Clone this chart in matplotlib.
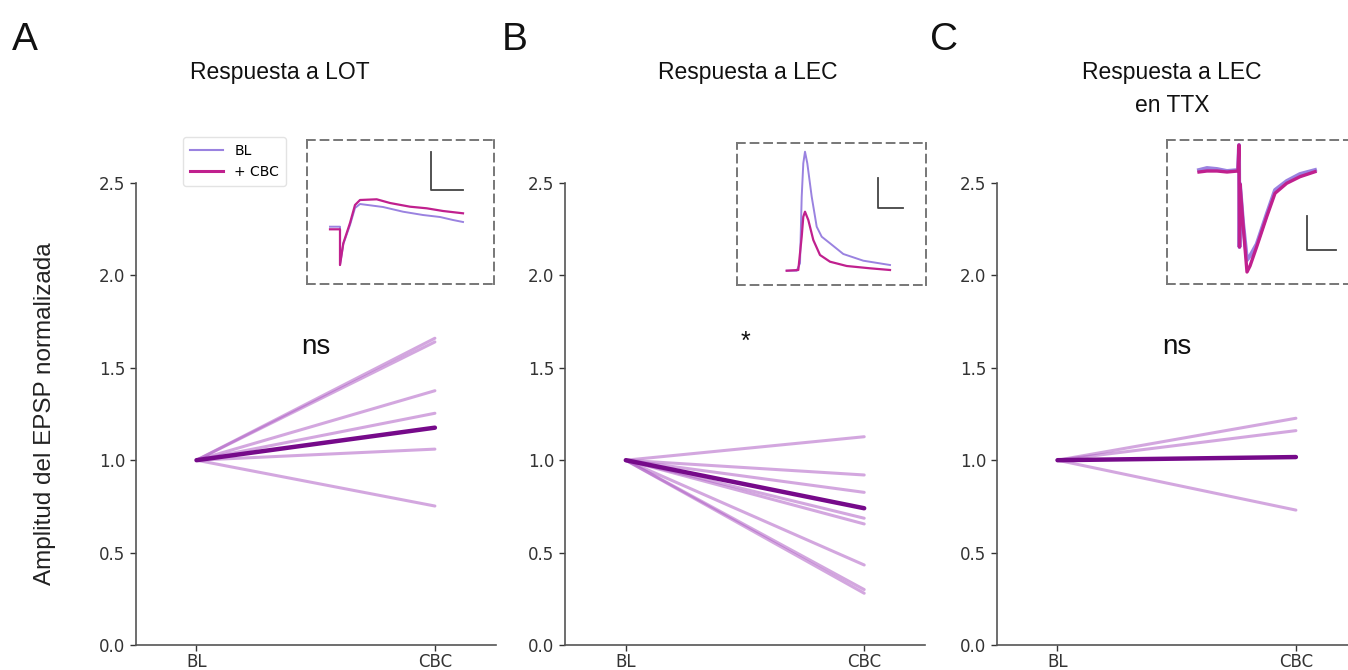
import matplotlib
matplotlib.use("Agg")
import matplotlib.pyplot as plt
from matplotlib.lines import Line2D

# ---------------- data ----------------
conditions = ["BL", "CBC"]

lot_cells = [1.66, 1.64, 1.376, 1.254, 1.06, 0.752]
lot_mean = 1.176

lec_cells = [1.127, 0.92, 0.826, 0.686, 0.655, 0.433, 0.30, 0.28]
lec_mean = 0.74

ttx_cells = [1.227, 1.16, 0.73]
ttx_mean = 1.017

stat_labels = ["ns", "*", "ns"]
titles = ["Respuesta a LOT", "Respuesta a LEC", "Respuesta a LEC\nen TTX"]
panel_letters = ["A", "B", "C"]

# inset traces (arbitrary units)
lot_t_cbc = [23, 33, 33, 36.3, 43, 48, 53, 69.7, 83, 103, 119.7, 136, 156]
lot_v_cbc = [54.7, 54.7, 19, 40.7, 61, 79, 84, 84.7, 81, 77.3, 75.7, 73, 70.7]
lot_t_bl = [23, 33, 33, 36.3, 43, 48, 53, 76, 96, 116, 133, 146, 156]
lot_v_bl = [57.3, 57.3, 19, 40, 59, 76, 80, 77, 72.3, 69, 67, 64, 62]
lot_bar_t = [123.7, 123.7, 156.3]
lot_bar_v = [132.3, 94, 94]

lec_t_bl = [49.7, 59.7, 63, 64.7, 66.3, 68, 70.3, 74.7, 79.7, 84.7, 93, 106.3, 126.3, 153]
lec_v_bl = [14.3, 14.3, 21.7, 88.3, 121.7, 133.3, 121.7, 88.3, 58.3, 48.3, 41.7, 31, 24.3, 20]
lec_t_cbc = [49.7, 61.3, 64.7, 66.3, 68, 71.3, 76.3, 83, 93, 109.7, 133, 153]
lec_v_cbc = [14.3, 15, 48.3, 68.3, 73.3, 65, 45, 30, 23.3, 19, 16.7, 15]
lec_bar_t = [140.7, 140.7, 166.3]
lec_bar_v = [106.7, 76.7, 76.7]

ttx_t_bl = [32, 40, 50, 60, 71, 72, 72.5, 73, 76, 80, 83, 89.7, 99.7, 108, 119.7, 133, 148]
ttx_v_bl = [114, 116, 115, 113, 114, 139, 37, 100, 62, 24, 28, 40, 70, 94, 103, 110, 114]
ttx_t_cbc = [32, 40, 50, 60, 71, 72, 72.5, 73, 76, 80, 83, 89.7, 99.7, 108, 119.7, 133, 148]
ttx_v_cbc = [112, 113, 113, 112, 113, 139, 37, 100, 60, 12, 18, 37.3, 67.3, 90.7, 100.7, 107.3, 112.3]
ttx_bar_t = [139.7, 139.7, 169]
ttx_bar_v = [68, 34, 34]

# ---------------- style ----------------
W, H = 1348, 670
fig = plt.figure(figsize=(W / 100, H / 100), dpi=100)

cell_color = "#b060c6"
mean_color = "#760a8a"
bl_color = "#9a82e0"
cbc_color = "#c0208e"
tick_color = "#333333"
spine_color = "#555555"
sans = ["Liberation Sans", "DejaVu Sans"]


def fx(px):
    return px / W


def fy(py):
    return 1 - py / H


ax_bottom = fy(645)
ax_h = 462 / H
ax_w = 360 / W
lefts = [135.7, 565, 996.7]

datasets = [(lot_cells, lot_mean), (lec_cells, lec_mean), (ttx_cells, ttx_mean)]
xpos = [0, 1]

for i, (cells, mean) in enumerate(datasets):
    ax = fig.add_axes([fx(lefts[i]), ax_bottom, ax_w, ax_h])
    for v in cells:
        ax.plot(xpos, [1.0, v], color=cell_color, alpha=0.55, lw=2.2,
                solid_capstyle="round")
    ax.plot(xpos, [1.0, mean], color=mean_color, lw=3.2, solid_capstyle="round")
    ax.set_xlim(-0.255, 1.255)
    ax.set_ylim(0, 2.5)
    ax.set_xticks(xpos)
    ax.set_xticklabels(conditions)
    ax.set_yticks([0, 0.5, 1.0, 1.5, 2.0, 2.5])
    ax.set_yticklabels(["0.0", "0.5", "1.0", "1.5", "2.0", "2.5"])
    ax.tick_params(labelsize=12, colors=tick_color, length=4, width=1)
    ax.tick_params(axis="x", pad=1.5)
    for s in ["top", "right"]:
        ax.spines[s].set_visible(False)
    for s in ["left", "bottom"]:
        ax.spines[s].set_color(spine_color)
        ax.spines[s].set_linewidth(1.2)
    ax.patch.set_alpha(0)
    if stat_labels[i] == "ns":
        ax.text(0.5, 1.61, stat_labels[i], ha="center", va="center",
                fontsize=20, family=sans, color="#111111")
    else:
        ax.text(0.5, 1.64, stat_labels[i], ha="center", va="center",
                fontsize=18, family=sans, color="#111111")

# insets
insets = [
    (307, 140, 187, 144, (lot_t_bl, lot_v_bl), (lot_t_cbc, lot_v_cbc), (lot_bar_t, lot_bar_v), 1.4, 1.6),
    (737, 143, 189, 142, (lec_t_bl, lec_v_bl), (lec_t_cbc, lec_v_cbc), (lec_bar_t, lec_bar_v), 1.4, 1.6),
    (1167, 140, 190, 144, (ttx_t_bl, ttx_v_bl), (ttx_t_cbc, ttx_v_cbc), (ttx_bar_t, ttx_bar_v), 2.8, 2.4),
]
for (l, t, w, h, bl, cbc, bar, lwb, lwc) in insets:
    iax = fig.add_axes([fx(l), fy(t + h), w / W, h / H])
    iax.plot(bl[0], bl[1], color=bl_color, lw=lwb)
    iax.plot(cbc[0], cbc[1], color=cbc_color, lw=lwc)
    iax.plot(bar[0], bar[1], color="#444444", lw=1.3)
    iax.set_xlim(0, w)
    iax.set_ylim(0, h)
    iax.set_xticks([])
    iax.set_yticks([])
    iax.patch.set_alpha(0)
    for s in iax.spines.values():
        s.set_linestyle((0, (4, 3)))
        s.set_color("#777777")
        s.set_linewidth(1.4)

# legend
handles = [Line2D([], [], color=bl_color, lw=1.5),
           Line2D([], [], color=cbc_color, lw=2.2)]
fig.legend(handles, ["BL", "+ CBC"], loc="upper left",
           bbox_to_anchor=(fx(183), fy(137)), fontsize=10, frameon=True,
           edgecolor="#dddddd", handlelength=2.4, borderaxespad=0,
           borderpad=0.5, labelspacing=0.5)

# titles and letters
title_pos = [(280, 73), (748, 73), (1172, 89)]
for (x, y), ttl in zip(title_pos, titles):
    fig.text(fx(x), fy(y), ttl, ha="center", va="center", fontsize=16.5,
             family=sans, color="#111111", linespacing=1.5)

letter_pos = [(12, 22), (502, 22), (930, 22)]
for (x, y), let in zip(letter_pos, panel_letters):
    fig.text(fx(x), fy(y), let, ha="left", va="top", fontsize=28,
             family=sans, color="#111111")

fig.text(fx(45), fy(414), "Amplitud del EPSP normalizada", rotation=90,
         ha="center", va="center", fontsize=17.5, family=sans, color="#222222")

fig.savefig("out.png", dpi=100)
